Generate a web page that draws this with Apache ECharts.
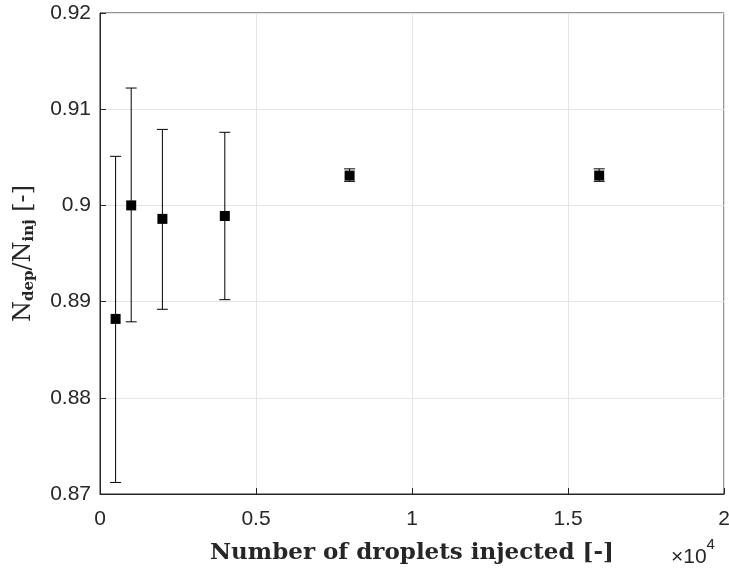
<!DOCTYPE html>
<html>
<head>
<meta charset="utf-8">
<script src="https://cdn.jsdelivr.net/npm/echarts@6/dist/echarts.min.js"></script>
<style>
  html, body { margin: 0; padding: 0; background: #fff; }
  #chart { width: 729px; height: 572px; }
</style>
</head>
<body>
<div id="chart"></div>
<script>
// droplets injected and deposition fraction, with error bar ends
var injected = [500, 1000, 2000, 4000, 8000, 16000]
var ratio = [0.8882, 0.9000, 0.8986, 0.8989, 0.9031, 0.9031]
var lower = [0.8712, 0.8879, 0.8892, 0.8902, 0.9025, 0.9025]
var upper = [0.9051, 0.9122, 0.9079, 0.9076, 0.9038, 0.9038]

var chart = echarts.init(document.getElementById('chart'))

var points = injected.map(function (x, i) { return [x, ratio[i]] })
var bars = injected.map(function (x, i) { return [x, lower[i], upper[i]] })

var axisColor = '#262626'
var tickFont = { fontFamily: 'Liberation Sans', fontSize: 21, color: '#262626' }

var option = {
    animation: false,
    title: {
        text: '{b|×10}{e|4}',
        left: 671, top: 537,
        padding: 0,
        textStyle: {
            rich: {
                b: { fontSize: 21, fontFamily: 'Liberation Sans', color: '#262626', fontWeight: 'normal', padding: [10, 0, 0, 0] },
                e: { fontSize: 15, fontFamily: 'Liberation Sans', color: '#262626', fontWeight: 'normal', verticalAlign: 'top' }
            }
        }
    },
    grid: {
        left: 100, right: 5, top: 13, bottom: 78,
        outerBoundsMode: 'none',
        containLabel: false,
        show: true, borderColor: axisColor, borderWidth: 1
    },
    xAxis: {
        type: 'value',
        min: 0, max: 20000, interval: 5000,
        axisLine: { lineStyle: { color: axisColor } },
        axisTick: { inside: true, length: 6, lineStyle: { color: axisColor } },
        splitLine: { lineStyle: { color: '#e5e5e5' } },
        axisLabel: Object.assign({ margin: 15, formatter: function (v) { return String(v / 10000) } }, tickFont),
        name: 'Number of droplets injected [-]',
        nameLocation: 'middle',
        nameGap: 48,
        nameTextStyle: { fontFamily: 'DejaVu Serif', fontSize: 23, fontWeight: 'bold', color: '#262626' }
    },
    yAxis: {
        type: 'value',
        min: 0.87, max: 0.92, interval: 0.01,
        axisLine: { lineStyle: { color: axisColor } },
        axisTick: { inside: true, length: 6, lineStyle: { color: axisColor } },
        splitLine: { lineStyle: { color: '#e5e5e5' } },
        axisLabel: Object.assign({ margin: 9, formatter: function (v) { return String(+v.toFixed(2)) } }, tickFont),
        name: '{n|N}{s|dep}{n|/N}{s|inj}{n| [-]}',
        nameLocation: 'middle',
        nameGap: 63,
        nameTextStyle: {
            rich: {
                n: { fontFamily: 'DejaVu Serif', fontSize: 24, color: '#262626' },
                s: { fontFamily: 'DejaVu Serif', fontSize: 15, fontWeight: 'bold', color: '#262626', verticalAlign: 'bottom', padding: [12, 0, 0, 0] }
            }
        }
    },
    series: [
        {
            type: 'custom',
            data: bars,
            z: 2,
            renderItem: function (params, api) {
                var x = api.value(0)
                var lo = api.coord([x, api.value(1)])
                var hi = api.coord([x, api.value(2)])
                var w = 5.5
                var style = { stroke: '#000', lineWidth: 1 }
                return {
                    type: 'group',
                    children: [
                        { type: 'line', shape: { x1: lo[0], y1: lo[1], x2: hi[0], y2: hi[1] }, style: style },
                        { type: 'line', shape: { x1: lo[0] - w, y1: lo[1], x2: lo[0] + w, y2: lo[1] }, style: style },
                        { type: 'line', shape: { x1: hi[0] - w, y1: hi[1], x2: hi[0] + w, y2: hi[1] }, style: style }
                    ]
                }
            }
        },
        {
            type: 'scatter',
            data: points,
            symbol: 'rect',
            symbolSize: 10,
            z: 3,
            itemStyle: { color: '#000', opacity: 1 }
        }
    ]
}
chart.setOption(option)
</script>
</body>
</html>
